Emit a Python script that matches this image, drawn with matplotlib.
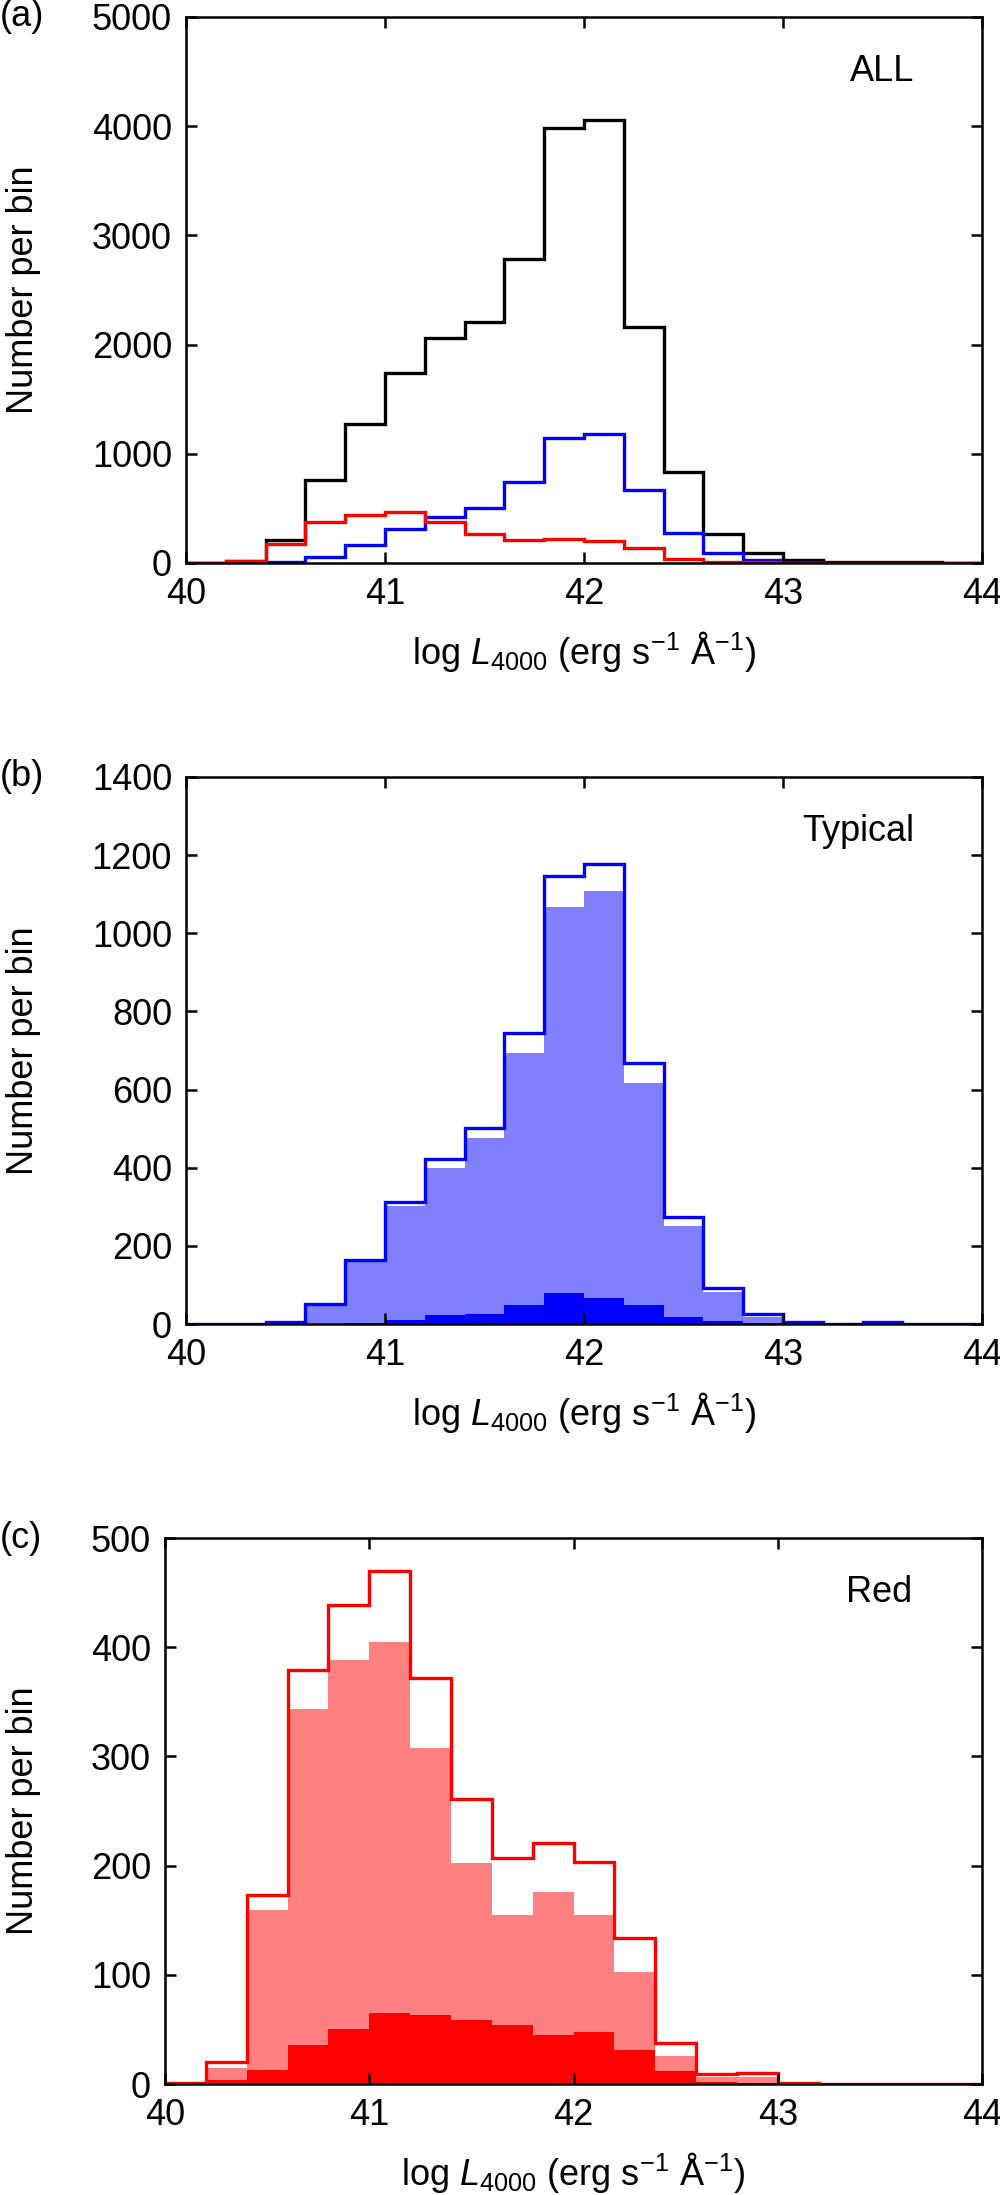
import numpy as np
import matplotlib
matplotlib.use('Agg')
import matplotlib.pyplot as plt

# Bin edges in log L4000 (0.2 dex bins from 40 to 44)
edges = np.round(np.arange(40.0, 44.01, 0.2), 1)

# Panel (a): all objects, typical and red subsets
all_counts = [0, 18, 215, 762, 1272, 1740, 2060, 2210, 2780, 3985, 4060,
              2157, 830, 270, 90, 28, 12, 8, 5, 3]

# Panel (b): typical quasars (outline), light fill and dark fill subsets
typ_counts = [0, 0, 5, 52, 163, 312, 423, 502, 745, 1147, 1178,
              668, 275, 92, 26, 6, 1, 4, 0, 0]
typ_light = [0, 0, 3, 48, 158, 302, 400, 477, 694, 1067, 1108,
             617, 250, 81, 17, 3, 0, 2, 0, 0]
typ_dark = [0, 0, 0, 1, 2, 11, 23, 26, 49, 79, 66,
            48, 18, 7, 2, 1, 0, 0, 0, 0]

# Panel (c): red quasars (outline), light fill and dark fill subsets
red_counts = [1, 20, 173, 379, 439, 470, 372, 261, 207, 221, 203,
              134, 38, 9, 10, 1, 0, 0, 0, 0]
red_light = [0, 15, 159, 343, 388, 405, 308, 202, 155, 176, 155,
             103, 26, 6, 6, 0.5, 0, 0, 0, 0]
red_dark = [0, 4, 13, 36, 50, 65, 63, 59, 54, 45, 48,
            31, 12, 2, 1, 0, 0, 0, 0, 0]

plt.rcParams['font.family'] = ['Liberation Sans', 'DejaVu Sans']
plt.rcParams['font.size'] = 26
plt.rcParams['mathtext.fontset'] = 'custom'
plt.rcParams['mathtext.rm'] = 'Liberation Sans'
plt.rcParams['mathtext.it'] = 'Liberation Sans:italic'

W, H = 1000, 2195
fig = plt.figure(figsize=(W / 100, H / 100), dpi=100)


def make_axes(left, right, top, bottom):
    return fig.add_axes([left / W, 1 - bottom / H, (right - left) / W, (bottom - top) / H])


ax_a = make_axes(186, 982, 17, 563)
ax_b = make_axes(186, 982, 777, 1324)
ax_c = make_axes(165, 982, 1538, 2084)

xlabel = r'log $\mathit{L}_{4000}$ (erg s$^{-1}$ Å$^{-1}$)'
lw = 2.4

# (a)
ax_a.stairs(all_counts, edges, color='black', lw=lw, baseline=None)
ax_a.stairs(typ_counts, edges, color='#0000ff', lw=lw, baseline=None)
ax_a.stairs(red_counts, edges, color='#ff0000', lw=lw, baseline=None)
ax_a.set_ylim(0, 5000)
ax_a.set_yticks([0, 1000, 2000, 3000, 4000, 5000])

# (b)
ax_b.stairs(typ_light, edges, fill=True, color='#8080ff', lw=0)
ax_b.stairs(typ_dark, edges, fill=True, color='#0000ff', lw=0)
ax_b.stairs(typ_counts, edges, color='#0000ff', lw=lw, baseline=None)
ax_b.set_ylim(0, 1400)
ax_b.set_yticks(np.arange(0, 1401, 200))

# (c)
ax_c.stairs(red_light, edges, fill=True, color='#ff8080', lw=0)
ax_c.stairs(red_dark, edges, fill=True, color='#ff0000', lw=0)
ax_c.stairs(red_counts, edges, color='#ff0000', lw=lw, baseline=None)
ax_c.set_ylim(0, 500)
ax_c.set_yticks(np.arange(0, 501, 100))

for ax, tag, name in [(ax_a, '(a)', 'ALL'), (ax_b, '(b)', 'Typical'), (ax_c, '(c)', 'Red')]:
    ax.set_xlim(40, 44)
    ax.set_xticks([40, 41, 42, 43, 44])
    ax.tick_params(direction='in', length=8, width=1.8, top=True, right=True, pad=10)
    for sp in ax.spines.values():
        sp.set_linewidth(1.8)
    ax.set_xlabel(xlabel, labelpad=12)
    ax.text(0.915, 0.9, name, transform=ax.transAxes, ha='right', va='center')
    pos = ax.get_position()
    fig.text(0.0, pos.y1, tag, ha='left', va='center')
    fig.text(24 / W, (pos.y0 + pos.y1) / 2, 'Number per bin', rotation=90,
             ha='center', va='center')

fig.savefig('out.png', dpi=100)
